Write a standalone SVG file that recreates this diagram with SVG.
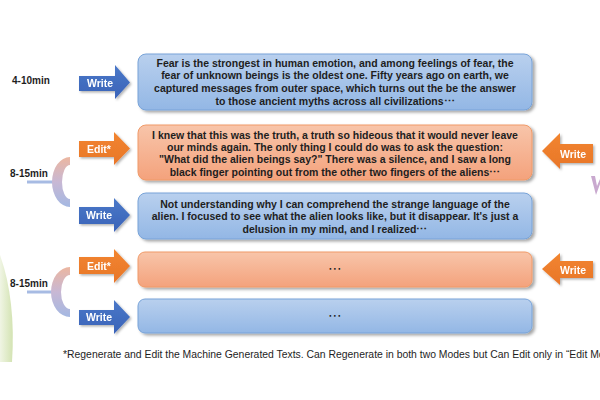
<svg xmlns="http://www.w3.org/2000/svg" width="600" height="400" viewBox="0 0 600 400">
<defs>
<linearGradient id="gBlue" x1="0" y1="0" x2="0" y2="1"><stop offset="0" stop-color="#b9d0ee"/><stop offset="1" stop-color="#93b7e5"/></linearGradient>
<linearGradient id="gOrange" x1="0" y1="0" x2="0" y2="1"><stop offset="0" stop-color="#f8c5aa"/><stop offset="1" stop-color="#f4a27c"/></linearGradient>
<linearGradient id="gArrowB" x1="0" y1="0" x2="0" y2="1"><stop offset="0" stop-color="#4a78c8"/><stop offset="1" stop-color="#3a63b8"/></linearGradient>
<linearGradient id="gArrowO" x1="0" y1="0" x2="0" y2="1"><stop offset="0" stop-color="#f2852f"/><stop offset="1" stop-color="#e8762a"/></linearGradient>
<linearGradient id="gBr" x1="0" y1="0" x2="0" y2="1"><stop offset="0" stop-color="#ecb6a0"/><stop offset="0.5" stop-color="#c8b8d4"/><stop offset="1" stop-color="#a4b8e2"/></linearGradient>
<linearGradient id="gGreen" x1="0" y1="0" x2="1" y2="0"><stop offset="0" stop-color="#f0f5e4"/><stop offset="1" stop-color="#d3e3b2"/></linearGradient>
<filter id="sh" x="-10%" y="-20%" width="120%" height="150%"><feDropShadow dx="2.5" dy="2" stdDeviation="1.8" flood-color="#000" flood-opacity="0.35"/></filter>
<filter id="shA" x="-20%" y="-20%" width="150%" height="150%"><feDropShadow dx="1.5" dy="1.5" stdDeviation="1" flood-color="#000" flood-opacity="0.3"/></filter>
</defs>
<style>
.bb{fill:url(#gBlue);stroke:#78a3d8;stroke-width:1}
.bo{fill:url(#gOrange);stroke:#f09a68;stroke-width:1}
.t{font-family:"Liberation Sans",Arial,sans-serif;font-weight:bold;font-size:10.5px;fill:#1e1e1e;text-anchor:middle}
.d{font-family:"DejaVu Sans",sans-serif;font-size:14px;fill:#1e1e1e;text-anchor:middle}
.al{font-family:"Liberation Sans",Arial,sans-serif;font-weight:bold;font-size:10.5px;fill:#fff;text-anchor:middle}
.lb{font-family:"Liberation Sans",Arial,sans-serif;font-weight:bold;font-size:10px;fill:#1e1e1e}
.fn{font-family:"Liberation Sans",Arial,sans-serif;font-size:10.4px;fill:#1e1e1e}
.ab{fill:url(#gArrowB)}
.ao{fill:url(#gArrowO)}
.br{fill:url(#gBr)}
.st{fill:#a7bbe3}
</style>
<rect width="600" height="400" fill="#fff"/>
<path d="M0,255 Q16,300 12,362 L0,362 Z" fill="url(#gGreen)"/>
<path d="M591,176 L596,195 L600,184 L600,179 L597,186 L595,176 Z" fill="#c9a9cf"/>

<g id="labels">
<text class="lb" x="12" y="83.5">4-10min</text>
<text class="lb" x="10" y="176.5">8-15min</text>
<text class="lb" x="10" y="286.5">8-15min</text>
</g>

<g id="connectors">
<rect class="st" x="27" y="180.5" width="26" height="3"/>
<path class="br" d="M70,157 A18,25 0 0 0 70,207 L70,199 A8,17 0 0 1 70,165 Z"/>
<rect class="st" x="27" y="290.5" width="25" height="3"/>
<path class="br" d="M70,267 A19,25 0 0 0 70,317 L70,309 A9,17 0 0 1 70,275 Z"/>
</g>

<g id="arrow1" filter="url(#shA)"><path class="ab" d="M79,76 L115,76 L115,65 L130,82.5 L115,99 L115,91 L79,91 Z"/><text class="al" x="100" y="87">Write</text></g>
<g id="arrow2" filter="url(#shA)"><path class="ao" d="M79,141 L114,141 L114,132 L130,148.5 L114,165 L114,157 L79,157 Z"/><text class="al" x="99" y="152.5">Edit*</text></g>
<g id="arrow3" filter="url(#shA)"><path class="ab" d="M79,207 L114,207 L114,198 L130,215 L114,232 L114,224 L79,224 Z"/><text class="al" x="99" y="219">Write</text></g>
<g id="arrow4" filter="url(#shA)"><path class="ao" d="M79,257 L114,257 L114,249 L130,266 L114,283 L114,274 L79,274 Z"/><text class="al" x="99" y="269.5">Edit*</text></g>
<g id="arrow5" filter="url(#shA)"><path class="ab" d="M79,310 L114,310 L114,300 L130,317 L114,334 L114,325 L79,325 Z"/><text class="al" x="99" y="321">Write</text></g>
<g id="arrow6" filter="url(#shA)"><path class="ao" d="M593,144 L560,144 L560,133 L542,151 L560,169 L560,163 L593,163 Z"/><text class="al" x="573" y="157.5">Write</text></g>
<g id="arrow7" filter="url(#shA)"><path class="ao" d="M593,261 L560,261 L560,253 L542,269 L560,285 L560,278 L593,278 Z"/><text class="al" x="573" y="273.5">Write</text></g>

<g id="box1"><rect class="bb" filter="url(#sh)" x="138" y="54" width="394" height="56" rx="8"/>
<text class="t" x="335" y="66.5">Fear is the strongest in human emotion, and among feelings of fear, the</text>
<text class="t" x="335" y="79.3">fear of unknown beings is the oldest one. Fifty years ago on earth, we</text>
<text class="t" x="335" y="92.1">captured messages from outer space, which turns out the be the answer</text>
<text class="t" x="335" y="105">to those ancient myths across all civilizations⋯</text></g>

<g id="box2"><rect class="bo" filter="url(#sh)" x="138" y="125" width="394" height="55" rx="8"/>
<text class="t" x="335" y="138.5">I knew that this was the truth, a truth so hideous that it would never leave</text>
<text class="t" x="335" y="150.9">our minds again. The only thing I could do was to ask the question:</text>
<text class="t" x="335" y="163.3">"What did the alien beings say?" There was a silence, and I saw a long</text>
<text class="t" x="335" y="175.7">black finger pointing out from the other two fingers of the aliens⋯</text></g>

<g id="box3"><rect class="bb" filter="url(#sh)" x="138" y="193" width="394" height="46" rx="8"/>
<text class="t" x="335" y="207.5">Not understanding why I can comprehend the strange language of the</text>
<text class="t" x="335" y="220.3">alien. I focused to see what the alien looks like, but it disappear. It's just a</text>
<text class="t" x="335" y="233.2">delusion in my mind, and I realized⋯</text></g>

<g id="box4"><rect class="bo" filter="url(#sh)" x="138" y="252" width="394" height="35" rx="7"/>
<text class="d" x="335" y="273">⋯</text></g>

<g id="box5"><rect class="bb" filter="url(#sh)" x="138" y="299" width="394" height="34" rx="7"/>
<text class="d" x="335" y="320">⋯</text></g>

<text class="fn" x="63" y="357.5">*Regenerate and Edit the Machine Generated Texts. Can Regenerate in both two Modes but Can Edit only in “Edit Mode”</text>
</svg>
